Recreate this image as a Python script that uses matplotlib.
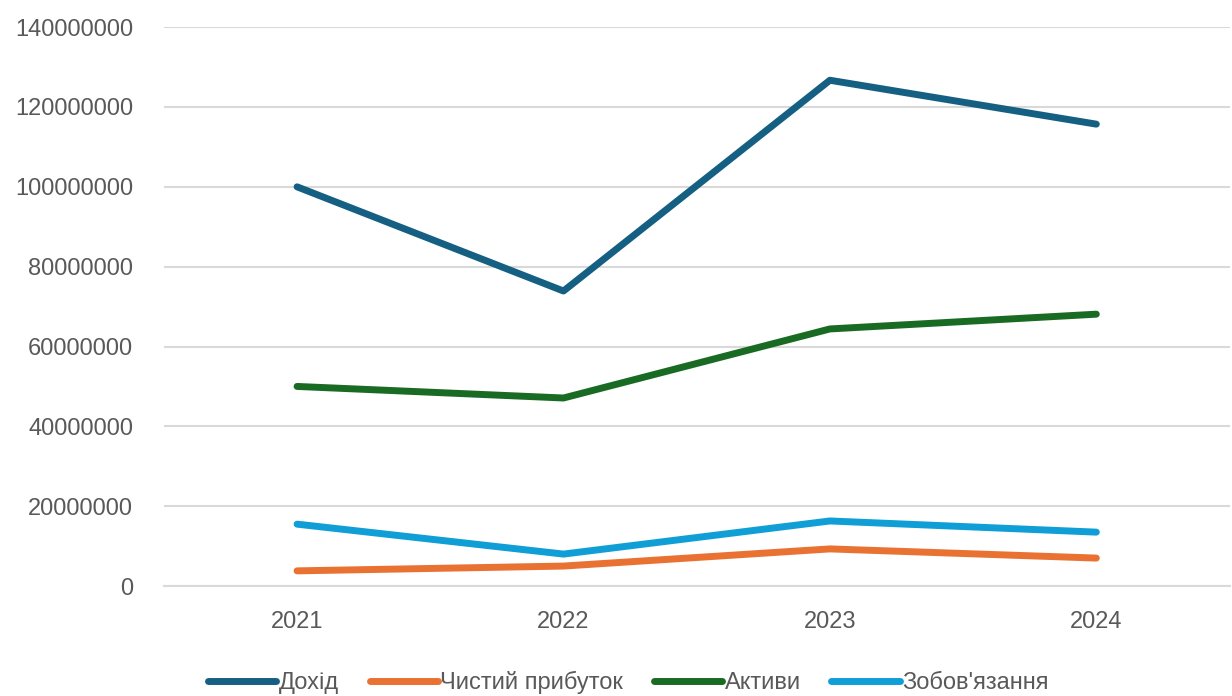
import matplotlib
matplotlib.use("Agg")
import matplotlib.pyplot as plt
from matplotlib.ticker import FuncFormatter

plt.rcParams['font.family'] = ['Liberation Sans', 'DejaVu Sans']

# data
years = ["2021", "2022", "2023", "2024"]
dokhid = [100000000, 73900000, 126700000, 115700000]
prybutok = [3800000, 5000000, 9300000, 7000000]
aktyvy = [50000000, 47100000, 64400000, 68100000]
zoboviazannia = [15500000, 8000000, 16300000, 13500000]

series_names = ["Дохід", "Чистий прибуток", "Активи", "Зобов'язання"]
colors = ["#156082", "#E97132", "#196B24", "#0F9ED5"]

fig = plt.figure(figsize=(12.32, 6.96), dpi=100)
ax = fig.add_axes([0.133, 0.158, 0.865, 0.803])

x = range(len(years))
for vals, name, c in zip([dokhid, prybutok, aktyvy, zoboviazannia], series_names, colors):
    ax.plot(x, vals, color=c, linewidth=5, label=name, solid_capstyle='round')

ax.set_xlim(-0.5, len(years) - 0.5)
ax.set_ylim(0, 140000000)
ax.set_yticks(range(0, 140000001, 20000000))
ax.yaxis.set_major_formatter(FuncFormatter(lambda v, p: f"{int(v)}"))
ax.set_xticks(list(x))
ax.set_xticklabels(years)

ax.grid(axis='y', color='#d9d9d9', linewidth=1.5)
ax.set_axisbelow(True)
for s in ax.spines.values():
    s.set_visible(False)
ax.spines['bottom'].set_visible(True)
ax.spines['bottom'].set_color('#d9d9d9')
ax.spines['bottom'].set_linewidth(1.5)
ax.tick_params(axis='both', length=0, labelsize=17, colors='#595959')
ax.tick_params(axis='y', pad=22)
ax.tick_params(axis='x', pad=18)

fig.legend(loc='lower center', bbox_to_anchor=(0.51, -0.028), ncol=4, frameon=False,
           fontsize=17, labelcolor='#595959', handlelength=2.9, handletextpad=0.1,
           columnspacing=1.3)

fig.savefig("out.png", dpi=100)
